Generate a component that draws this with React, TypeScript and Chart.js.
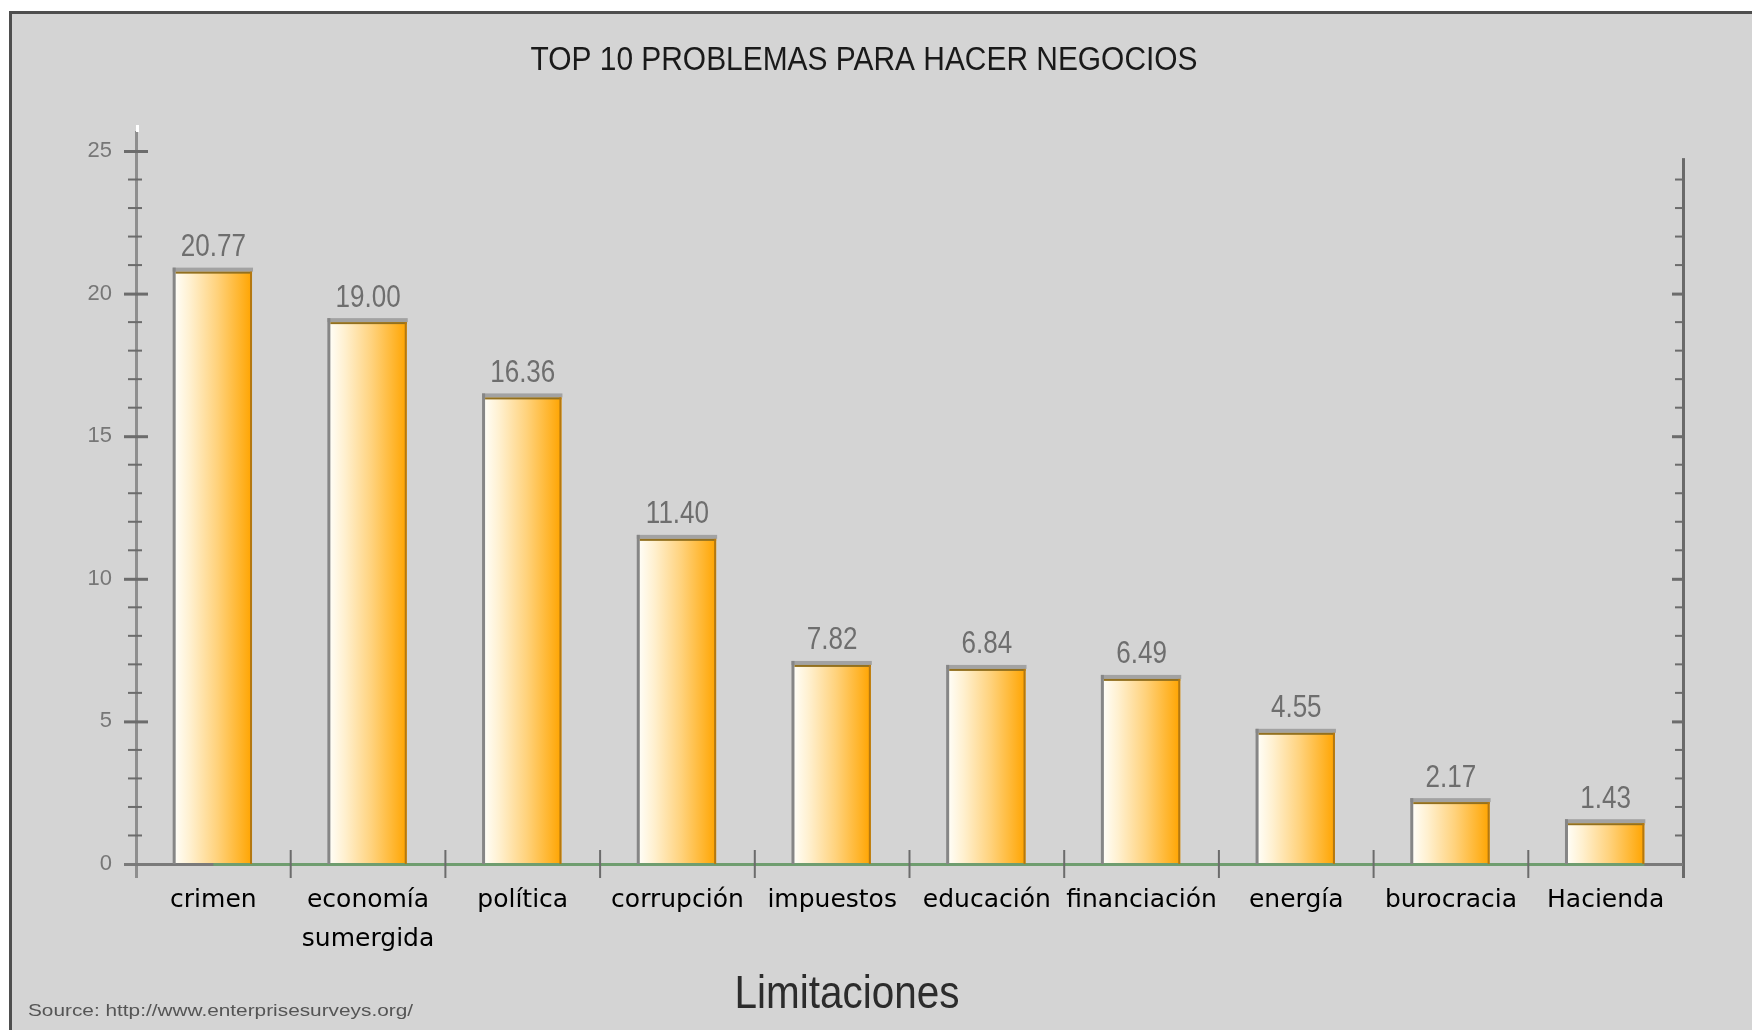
import React, { useEffect, useRef } from 'react';
import { Chart, registerables } from 'chart.js';

Chart.register(...registerables);

// ---- data ----
const chartTitle = 'TOP 10 PROBLEMAS PARA HACER NEGOCIOS';
const xAxisTitle = 'Limitaciones';
const sourceNote = 'Source: http://www.enterprisesurveys.org/';
const categories: string[][] = [
  ['crimen'],
  ['economía', 'sumergida'],
  ['política'],
  ['corrupción'],
  ['impuestos'],
  ['educación'],
  ['financiación'],
  ['energía'],
  ['burocracia'],
  ['Hacienda'],
];
// bar heights as drawn in the picture
const barValues = [20.77, 19.0, 16.36, 11.4, 6.98, 6.84, 6.49, 4.6, 2.17, 1.43];
// value labels as printed above the bars
const valueLabels = ['20.77', '19.00', '16.36', '11.40', '7.82', '6.84', '6.49', '4.55', '2.17', '1.43'];
const yMin = 0;
const yMax = 25;
const yStep = 5;

function drawFitted(
  ctx: CanvasRenderingContext2D,
  text: string,
  x: number,
  y: number,
  font: string,
  color: string,
  widthScale: number,
  targetWidth: number | null,
  align: CanvasTextAlign = 'center'
) {
  ctx.save();
  ctx.font = font;
  ctx.fillStyle = color;
  ctx.textAlign = align;
  ctx.textBaseline = 'middle';
  const w = ctx.measureText(text).width;
  const s = targetWidth ? targetWidth / w : widthScale;
  ctx.translate(x, y);
  ctx.scale(s, 1);
  ctx.fillText(text, 0, 0);
  ctx.restore();
}

const framePlugin = {
  id: 'frame',
  beforeDraw(chart: any) {
    const { ctx, width, height } = chart;
    ctx.save();
    ctx.fillStyle = '#ffffff';
    ctx.fillRect(0, 0, width, height);
    ctx.fillStyle = '#d4d4d4';
    ctx.fillRect(10, 12, width - 10, height - 12);
    ctx.fillStyle = '#4e4e4e';
    ctx.fillRect(9, 11, width - 9, 3);
    ctx.fillRect(9, 11, 3, height - 11);
    ctx.restore();
  },
  afterDraw(chart: any) {
    const ctx = chart.ctx;
    drawFitted(ctx, chartTitle, 864, 61, '34px "Liberation Sans"', '#1a1a1a', 1, 667);
    drawFitted(ctx, xAxisTitle, 847, 995, '46px "Liberation Sans"', '#2c2c2c', 1, 225);
    drawFitted(ctx, sourceNote, 28, 1011, '17px "Liberation Sans"', '#555555', 1, 385, 'left');
  },
};

const barDecorPlugin = {
  id: 'barDecor',
  afterDatasetsDraw(chart: any) {
    const { ctx } = chart;
    const meta = chart.getDatasetMeta(0);
    ctx.save();
    meta.data.forEach((el: any, i: number) => {
      const { x, y, width, base } = el.getProps(['x', 'y', 'width', 'base'], true);
      const left = x - width / 2;
      const right = x + width / 2;
      const h = base - y;
      // outer gray rim (top + left)
      ctx.fillStyle = '#a2a2a2';
      ctx.fillRect(left - 2, y - 4, width + 3, 4);
      ctx.fillStyle = '#868686';
      ctx.fillRect(left - 2, y - 4, 3, h + 4);
      // inner brown top edge
      ctx.fillStyle = '#92701f';
      ctx.fillRect(left + 1, y, width - 1, 2);
      // right darker edge
      ctx.fillStyle = '#b47810';
      ctx.fillRect(right - 2, y, 2, h);
      // value label
      drawFitted(ctx, valueLabels[i], x, y - 24, '31px "Liberation Sans"', '#6e6e6e', 0.84, null);
    });
    ctx.restore();
  },
};

const axesPlugin = {
  id: 'axesDecor',
  afterDatasetsDraw(chart: any) {
    const { ctx, chartArea, scales } = chart;
    const { left, right, bottom } = chartArea;
    const xs = scales.x;
    const ys = scales.y;
    const topPx = ys.getPixelForValue(ys.max);
    ctx.save();
    // left axis
    ctx.fillStyle = '#8e8e8e';
    ctx.fillRect(left - 1, topPx - 20, 3, bottom + 14 - (topPx - 20));
    ctx.fillStyle = '#ffffff';
    ctx.fillRect(left, topPx - 26, 3, 7);
    for (let v = ys.min; v <= ys.max; v++) {
      const py = ys.getPixelForValue(v);
      ctx.fillStyle = '#6c6c6c';
      if (v % yStep === 0) ctx.fillRect(left - 12, py - 1, 24, 3);
      else ctx.fillRect(left - 8, py - 1, 14, 2);
    }
    // right axis
    const rTop = ys.getPixelForValue(ys.max - 0.25);
    ctx.fillStyle = '#6a6a6a';
    ctx.fillRect(right - 1, rTop, 3, bottom + 14 - rTop);
    for (let v = ys.min + 1; v < ys.max; v++) {
      const py = ys.getPixelForValue(v);
      ctx.fillStyle = '#6c6c6c';
      if (v % yStep === 0) ctx.fillRect(right - 11, py - 1, 11, 3);
      else ctx.fillRect(right - 8, py - 1, 8, 2);
    }
    // bottom axis
    ctx.fillStyle = '#7a7a7a';
    ctx.fillRect(left - 12, bottom - 1, right - left + 12, 3);
    const meta = chart.getDatasetMeta(0);
    const barW = meta.data[0] ? meta.data[0].width : 0;
    const gStart = xs.getPixelForValue(0);
    const gEnd = xs.getPixelForValue(categories.length - 1) + barW / 2;
    ctx.fillStyle = '#6f9d6f';
    ctx.fillRect(gStart, bottom - 1, gEnd - gStart, 3);
    // category separators
    ctx.fillStyle = '#6c6c6c';
    for (let i = 1; i < categories.length; i++) {
      const px = (xs.getPixelForValue(i - 1) + xs.getPixelForValue(i)) / 2;
      ctx.fillRect(px - 1, bottom - 14, 2, 28);
    }
    ctx.restore();
  },
};

export default function App() {
  const ref = useRef<HTMLCanvasElement>(null);
  useEffect(() => {
    document.body.style.margin = '0';
    const canvas = ref.current!;
    const chart = new Chart(canvas, {
      type: 'bar',
      data: {
        labels: categories as any,
        datasets: [
          {
            data: barValues,
            borderWidth: 0,
            barPercentage: 0.5,
            categoryPercentage: 1.0,
            backgroundColor: (c: any) => {
              const ch = c.chart;
              const xs = ch.scales && ch.scales.x;
              if (!xs || c.dataIndex === undefined || !ch.chartArea) return '#ffc040';
              const cx = xs.getPixelForValue(c.dataIndex);
              const w = (xs.width / categories.length) * 0.5;
              const g = ch.ctx.createLinearGradient(cx - w / 2, 0, cx + w / 2, 0);
              g.addColorStop(0, '#fffef8');
              g.addColorStop(0.2, '#fff0cf');
              g.addColorStop(0.55, '#ffd27c');
              g.addColorStop(0.85, '#ffb42a');
              g.addColorStop(1, '#ffa400');
              return g;
            },
          },
        ],
      },
      options: {
        animation: false,
        responsive: false,
        devicePixelRatio: 1,
        layout: { padding: { left: 0, top: 151, right: 69, bottom: 0 } },
        plugins: {
          legend: { display: false },
          tooltip: { enabled: false },
          title: { display: false },
        },
        scales: {
          x: {
            grid: { display: false, drawTicks: false },
            border: { display: false },
            ticks: {
              color: '#000000',
              font: { family: '"DejaVu Sans"', size: 25, lineHeight: 1.55 },
              padding: 17,
              maxRotation: 0,
              minRotation: 0,
              autoSkip: false,
            },
            afterFit: (s: any) => {
              s.height = 166;
            },
          },
          y: {
            min: yMin,
            max: yMax,
            grid: { display: false, drawTicks: false },
            border: { display: false },
            ticks: {
              stepSize: yStep,
              color: '#777777',
              font: { family: '"Liberation Sans"', size: 22 },
              padding: 24,
            },
            afterFit: (s: any) => {
              s.width = 136;
            },
          },
        },
      },
      plugins: [framePlugin, axesPlugin, barDecorPlugin],
    });
    return () => chart.destroy();
  }, []);
  return (
    <div style={{ width: 1752, height: 1030 }}>
      <canvas ref={ref} width={1752} height={1030} style={{ display: 'block', width: 1752, height: 1030 }} />
    </div>
  );
}
